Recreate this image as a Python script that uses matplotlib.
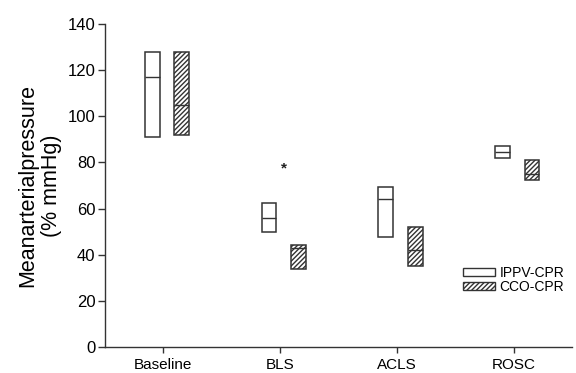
import matplotlib.pyplot as plt
from matplotlib.patches import Patch
import numpy as np

plt.rcParams["font.family"] = ["Liberation Sans", "DejaVu Sans"]
plt.rcParams["hatch.linewidth"] = 1.0

categories = ["Baseline", "BLS", "ACLS", "ROSC"]
groups = ["IPPV-CPR", "CCO-CPR"]

# box limits (low, median, high)
ippv_low = [91, 50, 47.5, 82]
ippv_med = [117, 56, 64, 84.5]
ippv_high = [128, 62.5, 69.5, 87]

cco_low = [92, 34, 35, 72.5]
cco_med = [105, 43, 42, 75]
cco_high = [128, 44, 52, 81]

star_x = 1.03
star_y = 77.5

EDGE = "#333333"
W = 0.125

fig = plt.figure(figsize=(5.76, 3.73), dpi=100)
ax = fig.add_axes([105 / 576, 26 / 373, 467 / 576, 323 / 373])

x = np.arange(len(categories))
series = [
    (x - 0.095, ippv_low, ippv_med, ippv_high, ""),
    (x + 0.157, cco_low, cco_med, cco_high, "///////"),
]
for xs, lo, med, hi, hatch in series:
    lo = np.array(lo)
    hi = np.array(hi)
    ax.bar(xs, hi - lo, bottom=lo, width=W, facecolor="white",
           edgecolor=EDGE, linewidth=1.1, hatch=hatch)
    ax.hlines(med, xs - W / 2, xs + W / 2, color=EDGE, linewidth=1.0)

ax.text(star_x, star_y, "*", ha="center", va="center", fontsize=11,
        fontweight="bold", color="#222222")

handles = [
    Patch(facecolor="white", edgecolor=EDGE, linewidth=1.0, label=groups[0]),
    Patch(facecolor="white", edgecolor=EDGE, linewidth=1.0, hatch="///////",
          label=groups[1]),
]
ax.legend(handles=handles, loc="center left", bbox_to_anchor=(0.766, 0.207),
          frameon=False, fontsize=10, handlelength=2.3, handleheight=0.55,
          handletextpad=0.35, labelspacing=0.0, borderpad=0, borderaxespad=0)

ax.set_xlim(-0.5, 3.5)
ax.set_ylim(0, 140)
ax.set_yticks(np.arange(0, 141, 20))
ax.set_xticks(x)
ax.set_xticklabels(categories, fontsize=11)
ax.tick_params(axis="y", labelsize=12, length=5, width=1, color="#333333", pad=2)
ax.tick_params(axis="x", length=4, width=1, color="#333333", pad=4)
ax.set_ylabel("Meanarterialpressure\n(% mmHg)", fontsize=15.5, labelpad=4,
              linespacing=1.15)

for side in ("top", "right"):
    ax.spines[side].set_visible(False)
for side in ("left", "bottom"):
    ax.spines[side].set_color("#333333")
    ax.spines[side].set_linewidth(1.0)

fig.savefig("out.png", dpi=100, facecolor="white")
